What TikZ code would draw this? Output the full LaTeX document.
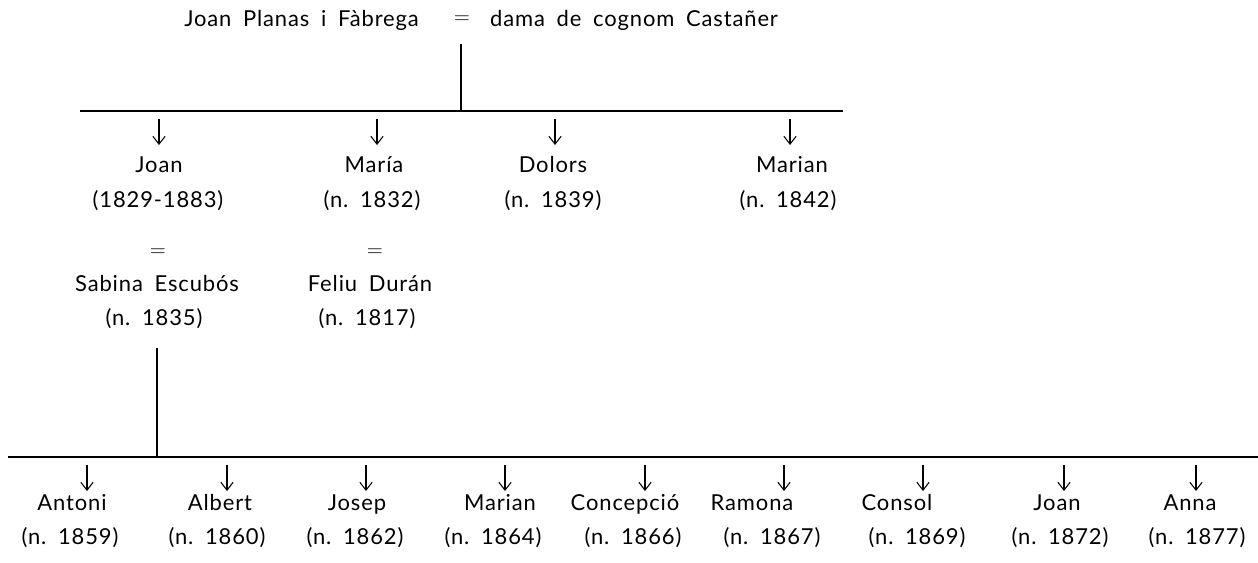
\documentclass[tikz,border=0pt]{standalone}
\usepackage{fontspec}
\setmainfont{Lato}[LetterSpace=4,WordSpace=1.8]
\usetikzlibrary{arrows.meta}
\begin{document}
\begin{tikzpicture}[x=0.02cm,y=-0.02cm,
  every node/.style={inner sep=1pt,font=\fontsize{12.5}{14}\selectfont},
  bar/.style={line width=1.3pt},
  desc/.style={line width=0.6pt,-{Straight Barb[length=4.5pt,width=7pt]}},
  txt/.style={anchor=base}]
\useasboundingbox (0,0) rectangle (1258,562);
% parents
\node[anchor=center] (eq0) at (462,20) {$=$};
\node[anchor=base east] (pare) at (421,26) {Joan Planas i Fàbrega};
\node[anchor=base west] (mare) at (488,26) {dama de cognom Castañer};
\coordinate (t0) at (461,44);
\coordinate (j0) at (461,111);
\coordinate (l0a) at (80,111);
\coordinate (l0b) at (843,111);
\draw[bar] (t0) -- (j0);
\draw[bar] (l0a) -- (l0b);
% first generation
\foreach \n/\x/\dx/\ax/\name/\date in {a/159/158/159/Joan/(1829-1883), b/374/372/377/María/(n.\ 1832), c/553/553/555/Dolors/(n.\ 1839), d/792/788/790/Marian/(n.\ 1842)}{
  \node[txt] (n\n) at (\x,172) {\name};
  \node[txt] (d\n) at (\dx,207) {\date};
  \coordinate (a\n) at (\ax,119);
  \draw[desc] (a\n) -- (\ax,145);
}
% spouses
\node[anchor=center] (eqa) at (158,253) {$=$};
\node[anchor=center] (eqb) at (375,253) {$=$};
\node[txt] (sa) at (157,291) {Sabina Escubós};
\node[txt] (sda) at (154,325) {(n.\ 1835)};
\node[txt] (sb) at (370,291) {Feliu Durán};
\node[txt] (sdb) at (367,325) {(n.\ 1817)};
\coordinate (t1) at (157,348);
\coordinate (j1) at (157,457);
\coordinate (l1a) at (8,457);
\coordinate (l1b) at (1258,457);
\draw[bar] (t1) -- (j1);
\draw[bar] (l1a) -- (l1b);
% second generation
\foreach \n/\x/\dx/\ax/\name/\date in {
  1/72/70/87/Antoni/(n.\ 1859),
  2/220/217/227/Albert/(n.\ 1860),
  3/357/355/366/Josep/(n.\ 1862),
  4/500/493/505/Marian/(n.\ 1864),
  5/625/633/645/Concepció/(n.\ 1866),
  6/752/772/784/Ramona/(n.\ 1867),
  7/897/917/923/Consol/(n.\ 1869),
  8/1057/1060/1064/Joan/(n.\ 1872),
  9/1190/1197/1196/Anna/(n.\ 1877)}{
  \node[txt] (m\n) at (\x,510) {\name};
  \node[txt] (e\n) at (\dx,544) {\date};
  \coordinate (b\n) at (\ax,465);
  \draw[desc] (b\n) -- (\ax,491);
}
\end{tikzpicture}
\end{document}
